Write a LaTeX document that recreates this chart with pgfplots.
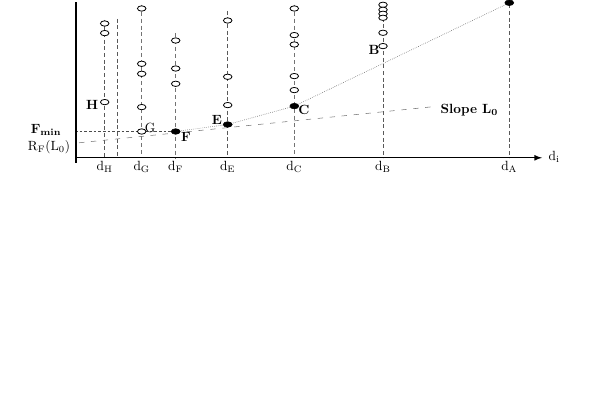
\documentclass[border=0pt]{standalone}
\usepackage{pgfplots}
\pgfplotsset{compat=1.18}
\tikzset{dlabel/.style={anchor=north, inner sep=0.6pt}}
\begin{document}
\begin{tikzpicture}
\begin{axis}[
  width=449.25pt, height=306.75pt, scale only axis,
  xmin=0, xmax=599, ymin=-254, ymax=155,
  hide axis, clip=true,
  every node/.style={font=\fontsize{5.5pt}{6pt}\selectfont},
  thin col/.style={black!65, line width=0.45pt, dash pattern=on 3pt off 2pt},
  thick col/.style={black!55, line width=1.1pt, dash pattern=on 3pt off 2.2pt},
  open pt/.style={only marks, mark=*, mark size=2pt,
    mark options={solid, xscale=1.6, fill=white, draw=black, line width=0.6pt}},
  full pt/.style={only marks, mark=*, mark size=2.1pt,
    mark options={solid, xscale=1.6, fill=black, draw=black}},
]
\coordinate (ll) at (rel axis cs:0,0);
\coordinate (ur) at (rel axis cs:1,1);
% vertical column lines
\addplot[thin col] coordinates {(104.7,138) (104.7,0)};
\addplot[thin col] coordinates {(117.5,139) (117.5,0)};
\addplot[thick col] coordinates {(141.7,160) (141.7,0)};
\addplot[thick col] coordinates {(175.7,125) (175.7,0)};
\addplot[thin col] coordinates {(227.7,147) (227.7,0)};
\addplot[thick col] coordinates {(294.3,160) (294.3,0)};
\addplot[thin col] coordinates {(383,160) (383,0)};
\addplot[thin col] coordinates {(509.3,160) (509.3,0)};

% F_min line and slope line
\addplot[black!70, line width=0.4pt, dash pattern=on 2pt off 1.5pt] coordinates {(75,26.3) (175.7,26.3)};
\addplot[black!55, line width=0.4pt, dash pattern=on 4pt off 5pt] coordinates {(79,15) (432,51)};

% lower hull F-E-C-A
\addplot[black!60, line width=0.45pt, densely dotted] coordinates {(175.7,26.3) (227.7,33.3) (294.3,51.7) (509.3,155)};

% axes
\addplot[black, line width=1pt, -latex] coordinates {(75,0) (542,0)};
\addplot[black, line width=1.2pt] coordinates {(76,-5) (76,160)};

% open points
\addplot[open pt] coordinates {
  (104.7,134.3) (104.7,124.7) (104.7,55.7)
  (141.7,149.3) (141.7,94) (141.7,84) (141.7,50.7) (141.7,26.3)
  (175.7,117.3) (175.7,89.3) (175.7,74)
  (227.7,137.3) (227.7,81) (227.7,52.7)
  (294.3,149.3) (294.3,122.7) (294.3,113.3) (294.3,81.7) (294.3,67.7)
  (383,153) (383,148) (383,144) (383,140) (383,125) (383,111.7)
};
% filled points
\addplot[full pt] coordinates {(175.7,26.3) (227.7,33.3) (294.3,51.7) (509.3,155)};

% labels
\node at (axis cs:92,53) {\textbf{H}};
\node at (axis cs:150,30) {G};
\node at (axis cs:186,21) {\textbf{F}};
\node at (axis cs:217,37.5) {\textbf{E}};
\node at (axis cs:304,48) {\textbf{C}};
\node at (axis cs:374,107.5) {\textbf{B}};
\node at (axis cs:46,27.5) {$\mathbf{F_{min}}$};
\node at (axis cs:49,11) {R$_{\mathrm{F}}$(L$_0$)};
\node[anchor=west] at (axis cs:436,48) {\textbf{Slope L$_{\mathbf{0}}$}};
\node[anchor=west] at (axis cs:544,0.5) {d$_{\mathrm{i}}$};
\node[dlabel] at (axis cs:104.7,-2) {d$_{\mathrm{H}}$};
\node[dlabel] at (axis cs:141.7,-2) {d$_{\mathrm{G}}$};
\node[dlabel] at (axis cs:175.7,-2) {d$_{\mathrm{F}}$};
\node[dlabel] at (axis cs:227.7,-2) {d$_{\mathrm{E}}$};
\node[dlabel] at (axis cs:294.3,-2) {d$_{\mathrm{C}}$};
\node[dlabel] at (axis cs:383,-2) {d$_{\mathrm{B}}$};
\node[dlabel] at (axis cs:509.3,-2) {d$_{\mathrm{A}}$};
\end{axis}
\path (ll) rectangle (ur);
\end{tikzpicture}
\end{document}
